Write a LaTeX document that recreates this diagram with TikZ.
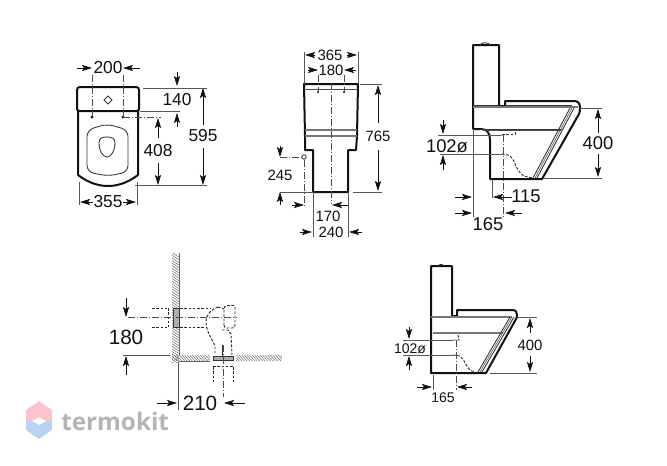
\documentclass[tikz,border=0pt]{standalone}
\usepackage{fontspec}
\setmainfont{Liberation Sans}
\newfontfamily\markfont{Open Sans}
\usetikzlibrary{arrows.meta}
\definecolor{ink}{HTML}{111111}
\definecolor{hatchgray}{HTML}{666666}
\definecolor{bandgray}{HTML}{777777}
\definecolor{wmpink}{HTML}{F9C4CB}
\definecolor{wmblue}{HTML}{BBD3F3}
\definecolor{wmtext}{HTML}{B5B5B5}
\tikzset{
  x=0.75pt,y=-0.75pt,
  outline/.style={draw=ink,line width=1.5pt,line join=round},
  midline/.style={draw=ink!85,line width=0.65pt},
  band/.style={draw=bandgray,line width=1.2pt},
  thinline/.style={draw=ink!75,line width=0.4pt},
  extline/.style={draw=ink!70,line width=0.5pt},
  centerline/.style={draw=ink!75,line width=0.5pt,dash pattern=on 5pt off 1.5pt on 1pt off 1.5pt},
  hidden/.style={draw=ink!90,line width=0.7pt,dash pattern=on 2pt off 1.2pt},
  dimarrow/.style={draw=ink,line width=0.5pt,-{Stealth[length=7.5pt,width=4.6pt,inset=1.5pt]}},
  hatch/.style={draw=hatchgray,line width=0.35pt},
  labM/.style={inner sep=0pt,text=ink,font=\fontsize{13pt}{15pt}\selectfont},
  labS/.style={inner sep=0pt,text=ink,font=\fontsize{11.2pt}{13pt}\selectfont},
  labL/.style={inner sep=0pt,text=ink,font=\fontsize{13.8pt}{15pt}\selectfont},
  labX/.style={inner sep=0pt,text=ink,font=\fontsize{15.5pt}{17pt}\selectfont},
  labT/.style={inner sep=0pt,text=ink,font=\fontsize{10.5pt}{12pt}\selectfont},
}
\begin{document}
\begin{tikzpicture}
\useasboundingbox[fill=white] (0,0) rectangle (667,465);

% ---------- plan view ----------
\draw[outline] (78,111) -- (78,175) .. controls (86,181) and (96,186) .. (108,186) .. controls (120,186) and (130,181) .. (138,175) -- (138,111);
\draw[outline] (77,90) .. controls (77,88) and (78,87) .. (80,87) -- (136,87) .. controls (138,87) and (139,88) .. (139,90) -- (139,109) .. controls (139,110) and (138,111) .. (137,111) -- (79,111) .. controls (78,111) and (77,110) .. (77,109) -- cycle;
\draw[midline,rounded corners=5pt] (87,130) -- (107,124) -- (128,130) -- (128,172) -- (108,176) -- (87,172) -- cycle;
\draw[midline] (107,137) .. controls (112,137) and (115,138) .. (115,143) .. controls (115,151) and (111,157) .. (107,157) .. controls (103,157) and (99,151) .. (99,143) .. controls (99,138) and (102,137) .. (107,137) -- cycle;
\draw[midline] (108,96) -- (112,100) -- (108,104) -- (104,100) -- cycle;
\fill[ink] (92,117) circle (1.6);
\fill[ink] (123,117) circle (1.6);
\draw[centerline] (92,75) -- (92,117);
\draw[centerline] (123,75) -- (123,117);
\draw[centerline] (123,117) -- (161,117);
\draw[dimarrow] (77,68) -- (92,68);
\draw[dimarrow] (140,68) -- (123,68);
\node[labM] (dimA) at (108,68) {200};
\draw[extline] (143,88) -- (207,88);
\draw[extline] (140,111) -- (180,111);
\draw[dimarrow] (177,72) -- (177,86);
\draw[dimarrow] (177,127) -- (177,113);
\node[labM] (dimB) at (177,100) {140};
\draw[extline] (135,185) -- (207,185);
\draw[dimarrow] (203,125) -- (203,88);
\draw[dimarrow] (203,148) -- (203,185);
\node[labM] (dimC) at (203,136) {595};
\draw[dimarrow] (158,138) -- (158,118);
\draw[dimarrow] (158,163) -- (158,185);
\node[labM] (dimD) at (158,151) {408};
\draw[extline] (79,182) -- (79,205);
\draw[extline] (137,182) -- (137,205);
\draw[dimarrow] (93,202) -- (80,202);
\draw[dimarrow] (123,202) -- (136,202);
\node[labM] (dimE) at (108,202) {355};

% ---------- front view ----------
\draw[outline] (304,84) -- (358,84) -- (357,136) -- (356,150) -- (348,150) -- (348,192) -- (313,192) -- (313,150) -- (305,150) -- (305,136) -- cycle;
\draw[thinline] (304,89) -- (358,89);
\draw[band] (305,130) -- (357,130);
\draw[band] (305,136) -- (357,136);
\draw[centerline] (331,83) -- (331,204);
\fill[ink] (318,92) circle (1.1);
\fill[ink] (344,92) circle (1.1);
\draw[extline] (304,52) -- (304,84);
\draw[extline] (358,52) -- (358,84);
\draw[centerline] (318,75) -- (318,92);
\draw[centerline] (344,75) -- (344,92);
\draw[dimarrow] (315,55) -- (305,55);
\draw[dimarrow] (347,55) -- (357,55);
\node[labS] (dimF) at (330,55) {365};
\draw[dimarrow] (308,70) -- (318,70);
\draw[dimarrow] (356,70) -- (344,70);
\node[labS] (dimG) at (331,70) {180};
\draw[extline] (360,84) -- (382,84);
\draw[extline] (353,192) -- (382,192);
\draw[dimarrow] (378,123) -- (378,85);
\draw[dimarrow] (378,150) -- (378,191);
\node[labS] (dimH) at (378,136) {765};
\draw[midline] (304,157) circle (2.2);
\draw[centerline] (280,157) -- (301,157);
\draw[centerline] (304,160) -- (304,207);
\draw[dimarrow] (280,146) -- (280,157);
\draw[extline] (280,192) -- (312,192);
\draw[dimarrow] (280,205) -- (280,192);
\node[labS] (dimI) at (280,175) {245};
\draw[dimarrow] (292,205) -- (304,205);
\draw[dimarrow] (348,205) -- (332,205);
\node[labS] (dimJ) at (328,216) {170};
\draw[extline] (313,192) -- (313,237);
\draw[extline] (348,192) -- (348,237);
\draw[dimarrow] (300,232) -- (312,232);
\draw[dimarrow] (362,232) -- (349,232);
\node[labS] (dimK) at (331,232) {240};

% ---------- side view, upper ----------
\draw[outline] (473,129) -- (473,45) -- (499,45) -- (499,106) -- (505,106) -- (505,101) -- (574,101) .. controls (578,101) and (580,103) .. (580,108) .. controls (580,110) and (580,112) .. (579,114) -- (542,179) -- (490,179) -- (490,140) .. controls (490,133) and (487,129) .. (481,129) -- cycle;
\draw[midline] (480,45) .. controls (481,42) and (489,42) .. (490,45);
\draw[band] (473,107) -- (578,107);
\draw[midline] (473,105) -- (499,105);
\draw[midline] (505,105) -- (572,105);
\draw[midline] (480,129) -- (563,129);
\draw[thinline] (483,130.5) -- (561,130.5);
\draw[midline] (533,178) -- (570,108);
\draw[thinline] (535,178) -- (572,108);
\draw[midline] (537,178) -- (574,108);
\draw[hidden] (502,134) -- (515,134) -- (515,131);
\draw[hidden] (502,154) -- (508,155) .. controls (516,158) and (514,170) .. (524,176) -- (532,178);
\draw[extline] (438,135) -- (502,135);
\draw[extline] (440,154) -- (502,154);
\draw[dimarrow] (443,120) -- (443,134);
\draw[dimarrow] (443,170) -- (443,155);
\node[labL] (dimL) at (447,146) {102ø};
\draw[extline] (580,108) -- (602,108);
\draw[extline] (543,178) -- (602,178);
\draw[dimarrow] (598,133) -- (598,109);
\draw[dimarrow] (598,154) -- (598,177);
\node[labL] (dimM) at (598,143) {400};
\draw[extline] (473,129) -- (473,217);
\draw[extline] (492,180) -- (492,198);
\draw[centerline] (503,135) -- (503,217);
\draw[dimarrow] (455,197) -- (472,197);
\draw[dimarrow] (512,197) -- (493,197);
\node[labL] (dimN) at (526,196) {115};
\draw[dimarrow] (455,213) -- (472,213);
\draw[dimarrow] (522,213) -- (505,213);
\node[labL] (dimO) at (488,224) {165};

% ---------- wall installation ----------
\begin{scope}
\clip (172,253) rectangle (179,362);
\foreach \k in {250,252.6,...,370} \draw[hatch] (168,\k) -- (183,\k+10);
\end{scope}
\begin{scope}
\clip (172,355) rectangle (210,361) (236,355) rectangle (282,361);
\foreach \k in {168,170.6,...,285} \draw[hatch] (\k,354) -- (\k+7,362);
\end{scope}
\draw[hatch] (179,253) -- (179,355);
\draw[hatch] (179,361) -- (210,361);
\draw[hidden] (152,308) -- (168,308);
\draw[hidden] (152,327) -- (168,327);
\draw[hidden] (168,308) -- (168,327);
\draw[midline,fill=bandgray!60] (173,308) rectangle (179,327);
\draw[hidden] (180,308) -- (210,308);
\draw[hidden] (180,327) -- (207,327);
\draw[centerline] (128,317) -- (237,317);
\draw[hidden] (218,307) .. controls (212,309) and (206,314) .. (206,322) .. controls (206,332) and (213,340) .. (215,346) -- (215,355);
\draw[hidden] (218,307) -- (224,309);
\draw[hidden,rounded corners=2pt] (224,328) -- (224,306) -- (235,305) -- (235,328) -- cycle;
\draw[hidden] (222,330) -- (228,330) -- (231,334) -- (232,355);
\draw[midline] (222,345) -- (222,361);
\draw[midline,fill=bandgray!60] (213,356) rectangle (233,360);
\draw[hidden] (213,366) -- (233,366);
\draw[hidden] (213,367) -- (213,382);
\draw[hidden] (233,367) -- (233,382);
\draw[centerline] (223,345) -- (223,397);
\draw[dimarrow] (126,298) -- (126,317);
\draw[extline] (123,355) -- (170,355);
\draw[dimarrow] (126,375) -- (126,356);
\node[labX] (dimP) at (126,337) {180};
\draw[extline] (178,362) -- (178,410);
\draw[dimarrow] (157,403) -- (177,403);
\draw[dimarrow] (245,403) -- (224,403);
\node[labX] (dimQ) at (200,403) {210};

% ---------- side view, lower ----------
\draw[outline] (431,373) -- (431,266) -- (452,266) -- (452,316) -- (457,316) -- (457,310) -- (512,310) .. controls (516,310) and (517,312) .. (517,315) .. controls (517,317) and (517,318) .. (516,319) -- (486,373) -- cycle;
\draw[midline] (438,266) .. controls (439,264) and (443,264) .. (444,266);
\draw[band] (431,317) -- (512,317);
\draw[band] (433,333) -- (503,333);
\draw[midline] (478,372) -- (510,317);
\draw[thinline] (480,372) -- (512,317);
\draw[midline] (482,372) -- (514,317);
\draw[hidden] (453,340) -- (459,340) -- (458,335);
\draw[hidden] (453,355) -- (460,356) .. controls (466,360) and (465,370) .. (475,372);
\draw[extline] (403,340) -- (453,340);
\draw[extline] (403,355) -- (453,355);
\draw[dimarrow] (409,327) -- (409,339);
\draw[dimarrow] (409,370) -- (409,356);
\node[labT] (dimR) at (410,349) {102ø};
\draw[extline] (517,317) -- (537,317);
\draw[extline] (490,373) -- (537,373);
\draw[dimarrow] (530,333) -- (530,318);
\draw[dimarrow] (530,356) -- (530,372);
\node[labS] (dimS) at (530,345) {400};
\draw[extline] (433,375) -- (433,390);
\draw[centerline] (456,340) -- (456,390);
\draw[dimarrow] (417,387) -- (432,387);
\draw[dimarrow] (472,387) -- (457,387);
\node[labT] (dimT) at (443,398) {165};

% ---------- watermark ----------
\fill[wmpink] (26,421) -- (26,410) -- (39,401) -- (52,410) -- (52,421) -- cycle;
\fill[wmblue] (26,421) -- (26,430) -- (39,439) -- (52,430) -- (52,421) -- cycle;
\fill[white] (32,421) -- (39,417) -- (46,421) -- (39,425) -- cycle;
\node[anchor=west,inner sep=0pt,text=wmtext,font=\markfont\bfseries\fontsize{18.2pt}{20pt}\selectfont] (wmark) at (61,421) {termokit};
\end{tikzpicture}
\end{document}
